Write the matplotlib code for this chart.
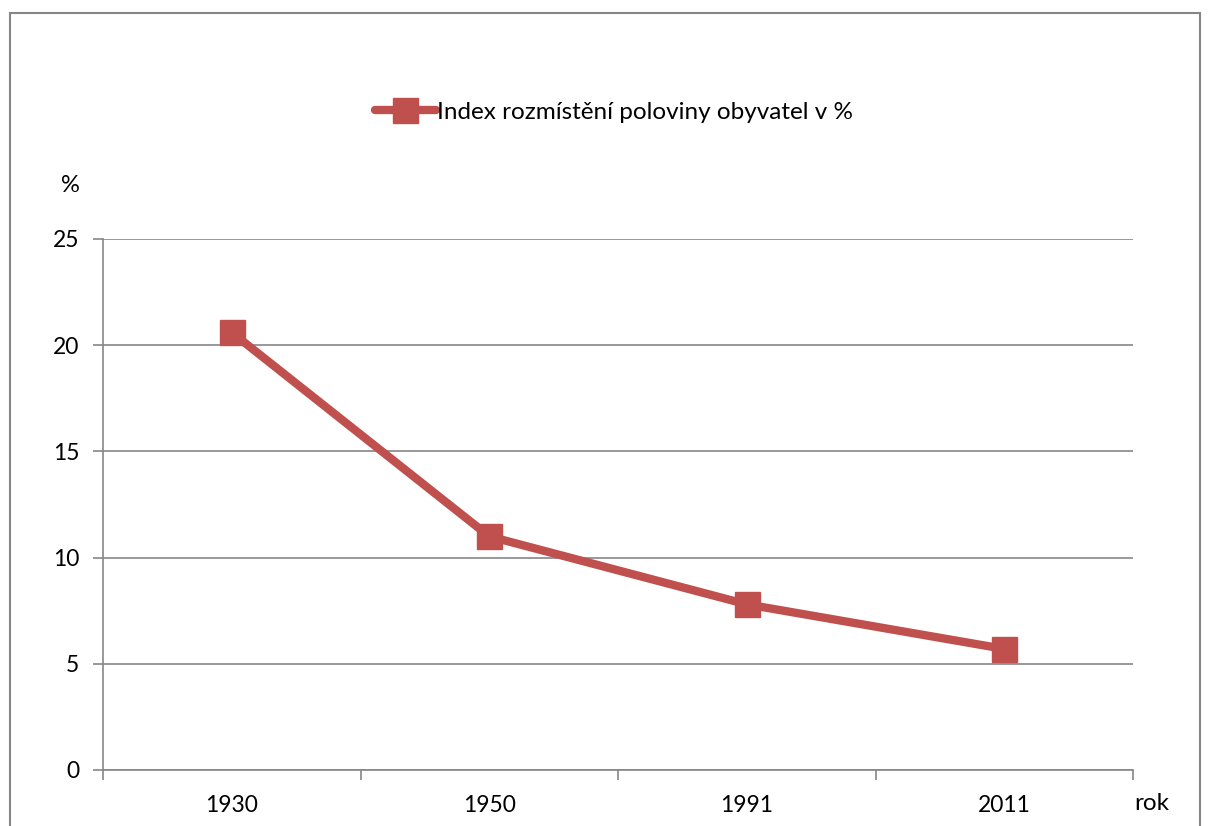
import matplotlib

matplotlib.use("Agg")
import matplotlib.pyplot as plt
from matplotlib.patches import Rectangle

plt.rcParams["font.family"] = ["Lato", "DejaVu Sans"]

years = ["1930", "1950", "1991", "2011"]
index_values = [20.6, 11.0, 7.8, 5.7]
y_ticks = [0, 5, 10, 15, 20, 25]
series_label = "Index rozmístění poloviny obyvatel v %"

RED = "#C0504D"
GRID = "#868686"
W, H = 1209, 826

fig = plt.figure(figsize=(W / 100, H / 100), dpi=100)
fig.patches.append(Rectangle((10 / W, -0.1), 1190 / W, 1.1 - 13 / H,
                             transform=fig.transFigure, fill=False,
                             edgecolor=GRID, linewidth=1.5))

left, right, top, bottom = 103, 1133, 239, 770
ax = fig.add_axes([left / W, 1 - bottom / H, (right - left) / W, (bottom - top) / H])

x = list(range(len(years)))
ax.plot(x, index_values, color=RED, linewidth=6, marker="s", markersize=18,
        markeredgecolor=RED, solid_capstyle="round", label=series_label, zorder=3)

ax.set_xlim(-0.5, len(years) - 0.5)
ax.set_ylim(0, 25)
ax.set_yticks(y_ticks)
ax.set_yticklabels([str(v) for v in y_ticks])
ax.set_xticks(x)
ax.set_xticklabels(years)
ax.set_xticks([i - 0.5 for i in range(len(years) + 1)], minor=True)

ax.tick_params(axis="x", which="major", length=0, pad=18, labelsize=16.5)
ax.tick_params(axis="x", which="minor", length=7, width=1.2, color=GRID, direction="out")
ax.tick_params(axis="y", length=7, width=1.2, color=GRID, pad=10, labelsize=16.5)

ax.grid(axis="y", color=GRID, linewidth=1.2)
ax.set_axisbelow(True)
for side in ["top", "right"]:
    ax.spines[side].set_visible(False)
for side in ["left", "bottom"]:
    ax.spines[side].set_color(GRID)
    ax.spines[side].set_linewidth(1.2)

fig.text(70 / W, 1 - 186 / H, "%", fontsize=17, ha="center", va="center")
fig.text(1152 / W, 1 - 803 / H, "rok", fontsize=17.5, ha="center", va="center")

fig.legend(loc="center", bbox_to_anchor=(614 / W, 1 - 112 / H), frameon=False,
           fontsize=17.5, handlelength=2.5, handletextpad=0.05)

fig.savefig("out.png", dpi=100)
